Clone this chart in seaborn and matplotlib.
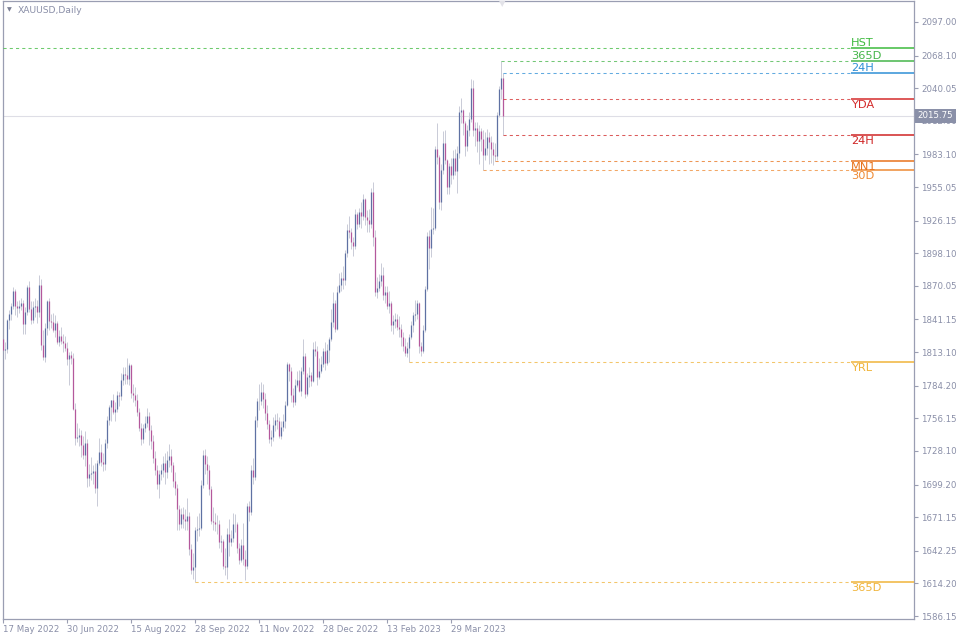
import numpy as np
import pandas as pd
import matplotlib
matplotlib.use("Agg")
import matplotlib.pyplot as plt
import seaborn as sns

# ---------------- data ----------------
opens = [
    1824,1815,1816,1841,1846,1853,1866,1853,1851,1853,
    1855,1837,1848,1869,1850,1841,1852,1853,1848,1871,
    1819,1809,1834,1857,1840,1839,1832,1838,1822,1827,
    1823,1821,1817,1807,1811,1808,1764,1739,1740,1742,
    1733,1725,1735,1705,1708,1709,1711,1696,1718,1727,
    1719,1717,1735,1755,1766,1772,1762,1764,1776,1775,
    1789,1794,1793,1790,1802,1778,1776,1772,1762,1748,
    1738,1748,1752,1758,1746,1737,1722,1712,1700,1708,
    1712,1718,1710,1720,1724,1716,1702,1696,1678,1665,
    1674,1670,1668,1672,1644,1626,1628,1660,1661,1662,
    1699,1725,1717,1712,1695,1668,1667,1665,1665,1650,
    1651,1629,1628,1657,1650,1653,1665,1665,1645,1634,
    1647,1635,1629,1681,1676,1712,1706,1755,1771,1771,
    1779,1773,1761,1751,1738,1740,1750,1755,1754,1741,
    1749,1754,1768,1803,1797,1776,1770,1785,1789,1780,
    1797,1810,1777,1792,1793,1788,1816,1814,1792,1797,
    1803,1814,1804,1815,1824,1839,1855,1833,1865,1871,
    1877,1875,1898,1918,1916,1908,1904,1932,1923,1934,
    1930,1945,1929,1927,1923,1951,1912,1865,1868,1874,
    1879,1862,1865,1853,1855,1836,1840,1842,1835,1833,
    1826,1818,1812,1817,1826,1836,1845,1846,1855,1818,
    1814,1832,1867,1913,1903,1919,1920,1988,1981,1942,
    1970,1993,1978,1955,1973,1965,1980,1969,1984,2020,
    2021,2010,1990,2004,2014,2040,2004,2006,1995,2003,
    1996,1983,1989,1998,1994,1988,1983,1982,2017,2039,
    2049,
]
highs = [
    1828,1822,1842,1849,1855,1869,1867,1857,1858,1860,
    1858,1852,1871,1874,1857,1857,1860,1858,1879,1876,
    1832,1838,1858,1860,1846,1847,1845,1840,1832,1835,
    1829,1827,1822,1813,1814,1812,1769,1752,1748,1746,
    1741,1745,1738,1717,1723,1716,1718,1720,1739,1734,
    1726,1738,1758,1768,1772,1777,1770,1780,1779,1795,
    1800,1800,1808,1804,1803,1786,1783,1777,1765,1752,
    1751,1758,1765,1762,1750,1742,1728,1716,1712,1717,
    1724,1726,1728,1734,1730,1719,1710,1700,1682,1679,
    1680,1678,1688,1676,1648,1640,1663,1672,1675,1703,
    1729,1730,1724,1716,1698,1680,1675,1673,1669,1656,
    1652,1645,1662,1670,1660,1675,1674,1667,1649,1652,
    1666,1643,1683,1685,1716,1722,1758,1774,1786,1787,
    1786,1778,1768,1755,1746,1757,1760,1761,1757,1754,
    1760,1771,1805,1804,1800,1782,1790,1797,1798,1800,
    1824,1812,1795,1800,1796,1822,1823,1818,1808,1810,
    1817,1822,1820,1826,1850,1865,1858,1870,1881,1882,
    1887,1901,1923,1930,1920,1912,1936,1934,1937,1942,
    1949,1946,1935,1936,1954,1959,1918,1878,1880,1890,
    1886,1870,1870,1866,1857,1845,1847,1846,1844,1837,
    1830,1825,1822,1829,1840,1848,1858,1858,1856,1822,
    1836,1870,1916,1918,1938,1937,1990,2010,1983,1975,
    2003,2004,1979,1976,1980,1987,1988,1990,2025,2032,
    2022,2012,2008,2020,2048,2047,2011,2011,2008,2006,
    2004,2002,2005,2002,1999,1994,1993,2020,2042,2063.5,
    2053.1,
]
lows = [
    1810,1807,1812,1833,1841,1850,1845,1843,1847,1849,
    1829,1829,1845,1848,1837,1838,1843,1838,1843,1815,
    1806,1805,1828,1832,1834,1830,1826,1820,1818,1820,
    1813,1814,1802,1785,1803,1763,1733,1736,1732,1723,
    1721,1715,1697,1698,1703,1700,1692,1681,1716,1715,
    1711,1712,1731,1750,1754,1760,1754,1762,1767,1772,
    1785,1786,1786,1785,1774,1770,1767,1758,1745,1733,
    1735,1744,1749,1733,1730,1718,1707,1695,1688,1703,
    1706,1700,1705,1714,1710,1697,1690,1660,1660,1662,
    1662,1660,1660,1639,1622,1618,1615.4,1651,1655,1660,
    1696,1708,1700,1690,1665,1660,1659,1657,1645,1641,
    1627,1621,1618,1638,1646,1650,1658,1640,1631,1633,
    1630,1617,1627,1668,1673,1700,1703,1749,1763,1768,
    1765,1755,1747,1735,1732,1737,1745,1747,1739,1738,
    1745,1748,1767,1788,1770,1766,1768,1783,1779,1775,
    1794,1774,1775,1783,1784,1787,1810,1785,1790,1795,
    1800,1798,1802,1805,1823,1835,1830,1832,1864,1866,
    1867,1871,1895,1911,1902,1896,1902,1919,1921,1920,
    1927,1922,1916,1916,1920,1904,1861,1860,1866,1870,
    1858,1855,1850,1847,1831,1829,1834,1832,1826,1818,
    1814,1810,1809,1804.6,1824,1830,1840,1842,1812,1810,
    1812,1830,1866,1885,1895,1915,1918,1975,1936,1935,
    1966,1975,1949,1949,1958,1962,1965,1950,1980,2010,
    2000,1982,1986,1999,2011,1999,1990,1985,1975,1986,
    1969.7,1978,1983,1975,1976,1974,1977.5,1978,2015,2030.8,
    1999.8,
]
closes = [
    1815,1816,1841,1846,1853,1866,1853,1851,1853,1855,
    1837,1848,1869,1850,1841,1852,1853,1848,1871,1819,
    1809,1834,1857,1840,1839,1832,1838,1822,1827,1823,
    1821,1817,1807,1811,1808,1764,1739,1740,1742,1733,
    1725,1735,1705,1708,1709,1711,1696,1718,1727,1719,
    1717,1735,1755,1766,1772,1762,1764,1776,1775,1789,
    1794,1793,1790,1802,1778,1776,1772,1762,1748,1738,
    1748,1752,1758,1746,1737,1722,1712,1700,1708,1712,
    1718,1710,1720,1724,1716,1702,1696,1678,1665,1674,
    1670,1668,1672,1644,1626,1628,1660,1661,1662,1699,
    1725,1717,1712,1695,1668,1667,1665,1665,1650,1651,
    1629,1628,1657,1650,1653,1665,1665,1645,1634,1647,
    1635,1629,1681,1676,1712,1706,1755,1771,1771,1779,
    1773,1761,1751,1738,1740,1750,1755,1754,1741,1749,
    1754,1768,1803,1797,1776,1770,1785,1789,1780,1797,
    1810,1777,1792,1793,1788,1816,1814,1792,1797,1803,
    1814,1804,1815,1824,1839,1855,1833,1865,1871,1877,
    1875,1898,1918,1916,1908,1904,1932,1923,1934,1930,
    1945,1929,1927,1923,1951,1912,1865,1868,1874,1879,
    1862,1865,1853,1855,1836,1840,1842,1835,1833,1826,
    1818,1812,1817,1826,1836,1845,1846,1855,1818,1814,
    1832,1867,1913,1903,1919,1920,1988,1981,1942,1970,
    1993,1978,1955,1973,1965,1980,1969,1984,2020,2021,
    2010,1990,2004,2014,2040,2004,2006,1995,2003,1996,
    1983,1989,1998,1994,1988,1983,1982,2017,2039,2049,
    2015.75,
]

date_labels = ["17 May 2022", "30 Jun 2022", "15 Aug 2022", "28 Sep 2022",
               "11 Nov 2022", "28 Dec 2022", "13 Feb 2023", "29 Mar 2023"]
date_label_bars = [0, 32, 64, 96, 128, 160, 192, 224]

price_ticks = [2097.00, 2068.10, 2040.05, 2012.00, 1983.10, 1955.05, 1926.15,
               1898.10, 1870.05, 1841.15, 1813.10, 1784.20, 1756.15, 1728.10,
               1699.20, 1671.15, 1642.25, 1614.20, 1586.15]

level_names = ["HST", "365D", "24H", "YDA", "24H", "MN1", "30D", "YRL", "365D"]
level_values = [2074.6, 2063.5, 2053.1, 2030.8, 1999.8, 1977.5, 1969.7, 1804.6, 1615.4]
level_start_bar = [0, 249, 250, 250, 250, 246, 240, 203, 96]
level_above = [True, True, True, False, False, False, False, False, False]
level_colors = ["#3dba3d", "#45b54a", "#2f8fd6", "#d42b2b", "#cf2525",
                "#e8731c", "#ee8a34", "#f0b43a", "#f0b43a"]

current_price = 2015.75
symbol_title = "XAUUSD,Daily"

# ---------------- figure ----------------
sns.set_theme(style="white")
plt.rcParams["font.family"] = ["DejaVu Sans"]

df = pd.DataFrame({"open": opens, "high": highs, "low": lows, "close": closes})
df["bar"] = np.arange(len(df))
df["up"] = df["close"] >= df["open"]

fig = plt.figure(figsize=(9.6, 6.4), dpi=100)
ax = fig.add_axes([2.7 / 960, 21 / 640, (914 - 2.7) / 960, 618 / 640])
ax.set_xlim(-0.3, 455.35)
ax.set_ylim(1583.57, 2115.06)
ax.set_facecolor("white")

# current price line
ax.axhline(current_price, color="#dedee6", lw=0.8, zorder=0)

# candles: light wick, thin coloured body
ax.vlines(df["bar"], df["low"], df["high"], color="#caccd8", lw=0.72, zorder=2)
up = df[df["up"]]
dn = df[~df["up"]]
ax.vlines(up["bar"], up["open"], up["close"], color="#5f71a3", lw=0.9, zorder=3)
ax.vlines(dn["bar"], dn["close"], dn["open"], color="#b4589c", lw=0.9, zorder=3)

# levels
x_label = 423.85
x_end = 455.35
for name, val, start, above, col in zip(level_names, level_values, level_start_bar,
                                        level_above, level_colors):
    ax.hlines(val, start if start > 0 else -0.3, x_label, colors=col, lw=0.75,
              linestyles=(0, (3, 3)), alpha=0.75, zorder=4)
    ax.hlines(val, x_label, x_end, colors=col, lw=1.1, zorder=4)
    if above:
        ax.annotate(name, xy=(x_label, val), xytext=(0, 0.0), textcoords="offset points",
                    ha="left", va="bottom", fontsize=8.2, color=col, zorder=5)
    else:
        ax.annotate(name, xy=(x_label, val), xytext=(0, -0.5), textcoords="offset points",
                    ha="left", va="top", fontsize=8.2, color=col, zorder=5)

# axes styling
for sp in ax.spines.values():
    sp.set_visible(True)
    sp.set_color("#9a9eb2")
    sp.set_linewidth(0.9)

ax.yaxis.tick_right()
ax.set_yticks(price_ticks)
ax.set_yticklabels([f"{v:.2f}" for v in price_ticks])
ax.tick_params(axis="y", which="both", direction="out", length=3, width=0.8,
               colors="#9a9eb2", labelcolor="#8a8fa8", labelsize=6.2, pad=2,
               right=True, left=False)
ax.set_xticks(date_label_bars)
ax.set_xticklabels(date_labels, ha="left")
ax.tick_params(axis="x", which="both", direction="out", length=3, width=0.8,
               colors="#9a9eb2", labelcolor="#8a8fa8", labelsize=6.2, pad=1.5,
               bottom=True)
ax.grid(False)

# current price box on the axis (drawn over the 2012.00 tick label as in the original)
ax.annotate(f"{current_price:.2f}", xy=(1.0, current_price),
            xycoords=("axes fraction", "data"), xytext=(2.5, 0.6),
            textcoords="offset points", ha="left", va="center", fontsize=6.2,
            color="white", annotation_clip=False, zorder=10,
            bbox=dict(boxstyle="square,pad=0.3", fc="#8a90a8", ec="none"))

# title
fig.text(18 / 960, 1 - 10.5 / 640, symbol_title, fontsize=6.6, color="#8a8fa8",
         ha="left", va="center")
fig.text(9.5 / 960, 1 - 10 / 640, "\u25BC", fontsize=4.5, color="#7a7f95",
         ha="center", va="center")
fig.text(502 / 960, 1 - 4 / 640, "\u25BC", fontsize=6, color="#e2e2e8",
         ha="center", va="center")

fig.savefig("out.png", dpi=100, facecolor="white")
